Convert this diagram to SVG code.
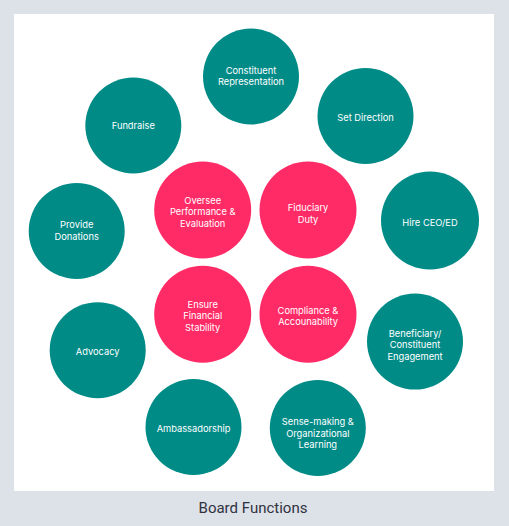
<svg xmlns="http://www.w3.org/2000/svg" width="509" height="526" viewBox="0 0 509 526">
<style>
.t{fill:#008b87}
.p{fill:#ff2b67}
text{font-family:Inter,"Liberation Sans",sans-serif;font-size:9.3px;fill:#ffffff;text-anchor:middle}
.title{font-family:Roboto,"Liberation Sans",sans-serif;font-size:15px;fill:#30333f}
</style>
<rect x="0" y="0" width="509" height="526" fill="#dde1e8"/>
<rect x="14" y="14" width="480" height="477" fill="#ffffff"/>
<g id="constituent-representation"><circle class="t" cx="251" cy="76.5" r="48"/><text x="251" y="73.5">Constituent</text><text x="251" y="84.5">Representation</text></g>
<g id="fundraise"><circle class="t" cx="133.3" cy="125.5" r="48"/><text x="133.3" y="129">Fundraise</text></g>
<g id="set-direction"><circle class="t" cx="365.5" cy="116" r="48"/><text x="365.5" y="120.5">Set Direction</text></g>
<g id="oversee"><circle class="p" cx="202.7" cy="210" r="48.5"/><text x="202.7" y="203.5">Oversee</text><text x="202.7" y="215">Performance &amp;</text><text x="202.7" y="226.5">Evaluation</text></g>
<g id="fiduciary"><circle class="p" cx="308" cy="210" r="48.5"/><text x="308" y="211">Fiduciary</text><text x="308" y="222.5">Duty</text></g>
<g id="hire"><circle class="t" cx="430" cy="220.5" r="49"/><text x="430" y="226">Hire CEO/ED</text></g>
<g id="provide-donations"><circle class="t" cx="76.7" cy="231" r="48"/><text x="76.7" y="228">Provide</text><text x="76.7" y="239.5">Donations</text></g>
<g id="ensure"><circle class="p" cx="202.7" cy="314.3" r="48.5"/><text x="202.7" y="307.5">Ensure</text><text x="202.7" y="319">Financial</text><text x="202.7" y="330.5">Stability</text></g>
<g id="compliance"><circle class="p" cx="308" cy="314.3" r="48.5"/><text x="308" y="313.5">Compliance &amp;</text><text x="308" y="325">Accounability</text></g>
<g id="advocacy"><circle class="t" cx="97.7" cy="350.2" r="48"/><text x="97.7" y="355">Advocacy</text></g>
<g id="beneficiary"><circle class="t" cx="415" cy="341.6" r="48"/><text x="415" y="336.5">Beneficiary/</text><text x="415" y="348">Constituent</text><text x="415" y="359.5">Engagement</text></g>
<g id="ambassadorship"><circle class="t" cx="193.5" cy="427" r="48"/><text x="193.5" y="432">Ambassadorship</text></g>
<g id="sense-making"><circle class="t" cx="317.8" cy="428" r="48"/><text x="317.8" y="425">Sense-making &amp;</text><text x="317.8" y="436.5">Organizational</text><text x="317.8" y="448">Learning</text></g>
<g id="connectors"></g>
<text class="title" x="253" y="513">Board Functions</text>
</svg>
